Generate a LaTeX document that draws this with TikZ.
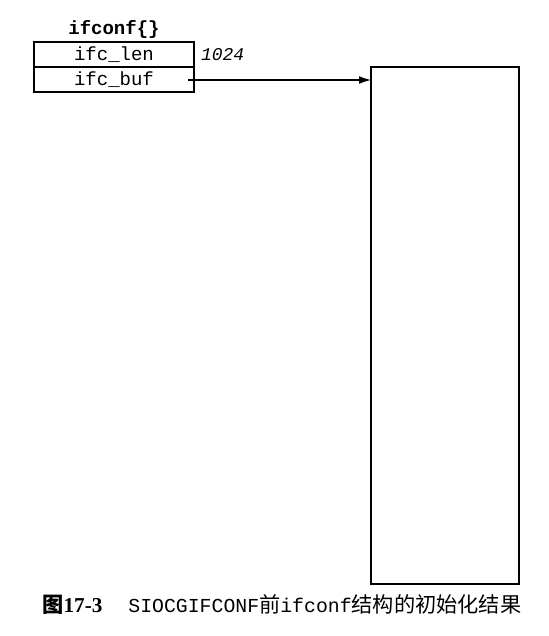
\documentclass[tikz,border=0pt]{standalone}
\usepackage{fontspec}
\setmainfont{Liberation Serif}
\setmonofont{Liberation Mono}
\newfontfamily\cjkfont{Noto Sans CJK SC}
\usetikzlibrary{arrows.meta}
\usetikzlibrary{positioning}

\tikzset{
  field/.style={draw, line width=0.9pt, minimum width=80pt, minimum height=12.5pt,
    inner sep=0pt, outer sep=0pt, font=\ttfamily\fontsize{9.5}{10}\selectfont},
  membuf/.style={draw, line width=0.9pt, minimum width=74pt, minimum height=258.5pt,
    inner sep=0pt, outer sep=0pt, anchor=north west},
}

\begin{document}
\begin{tikzpicture}[x=0.5pt, y=-0.5pt, >={Latex[length=6pt,width=4pt]}]
    \useasboundingbox (0,0) rectangle (549,636);
    \node[field] (lenfield) at (114,54.5) {ifc\_len};
    \node[field, below=0pt of lenfield] (buffield) {ifc\_buf};
    \node[above=-2pt of lenfield, font=\ttfamily\bfseries\fontsize{9.5}{10}\selectfont] (title) {ifconf\{\}};
    \node[right=0pt of lenfield, font=\ttfamily\itshape\fontsize{9}{10}\selectfont] (lenval) {1024};
    \node[membuf] (bufarea) at (371,67) {};
    \coordinate (bufptr) at (188,80);
    \draw[->, line width=0.7pt] (bufptr) -- (bufptr -| bufarea.west);
    % caption
    \node[anchor=west, inner sep=0pt, font=\fontsize{10.6}{12}\selectfont] (caption) at (42,605)
        {{\bfseries\cjkfont 图}{\bfseries 17-3}\hspace{13pt}{\ttfamily\fontsize{9.9}{12}\selectfont SIOCGIFCONF}{\cjkfont 前}{\ttfamily\fontsize{9.9}{12}\selectfont ifconf}{\cjkfont 结构的初始化结果}};
\end{tikzpicture}
\end{document}
